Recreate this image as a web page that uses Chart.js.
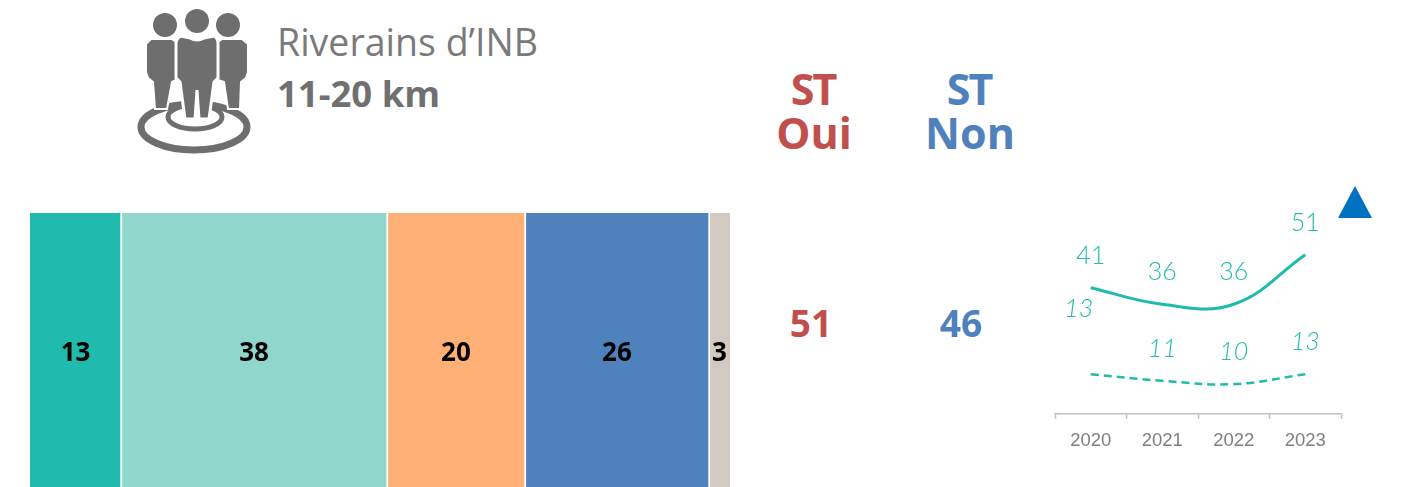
<!DOCTYPE html>
<html lang="fr">
<head>
<meta charset="utf-8">
<title>Riverains d'INB 11-20 km</title>
<script src="https://cdn.jsdelivr.net/npm/chart.js@4"></script>
<style>
    html, body { margin: 0; padding: 0; background: #fff; }
    body { position: relative; width: 1402px; height: 487px; overflow: hidden; font-family: "Open Sans", sans-serif; }
    .txt { position: absolute; white-space: nowrap; line-height: 1; }
    .ctr { transform: translateX(-50%); }
    #barBox { position: absolute; left: 30px; top: 213px; width: 700px; height: 274px; }
    #lineBox { position: absolute; left: 1053px; top: 190px; width: 290px; height: 273px; }
    #icon { position: absolute; left: 0; top: 0; }
    #arrow { position: absolute; left: 1338px; top: 186px; }
</style>
</head>
<body>
<svg id="icon" width="260" height="160">
    <g fill="none" stroke="#6e6e6e">
        <ellipse cx="194" cy="127" rx="53" ry="23" stroke-width="7"/>
        <ellipse cx="195" cy="117" rx="27" ry="12" stroke-width="5"/>
    </g>
    <g fill="#6e6e6e" stroke="#fff" stroke-width="3">
        <circle cx="165" cy="25" r="12" stroke="none"/>
        <circle cx="228" cy="25" r="12" stroke="none"/>
        <circle cx="197" cy="21" r="12" stroke="none"/>
        <path stroke-width="2" d="M151 39 L172 39 L176 42 L176 80 L172 82 L167 109 L155 109 L153 82 L148 78 L146 72 L146 44 Z"/>
        <path stroke-width="2" d="M242 39 L222 39 L218 42 L218 80 L224 82 L228 109 L240 109 L241 82 L246 78 L248 72 L248 44 Z"/>
        <path d="M181 36 L190 38 Q197 42 204 38 L214 36 Q218 38 218 44 L218 78 L214 82 L209 119 L199 119 L197 90 L195 119 L185 119 L180 82 L176 78 L176 44 Q176 38 181 36 Z"/>
    </g>
</svg>
<svg id="arrow" width="35" height="33"><polygon points="17,0 34,32 0,32" fill="#0070c0"/></svg>

<div class="txt" style="left:277px;top:23px;font-size:37.5px;color:#7a7a7a;">Riverains d’INB</div>
<div class="txt" style="left:277px;top:75px;font-size:36.5px;font-weight:700;color:#707070;">11-20 km</div>

<div class="txt ctr" style="left:813px;top:67px;font-size:43px;font-weight:700;letter-spacing:-2px;color:#c0504d;">ST</div>
<div class="txt ctr" style="left:814px;top:111px;font-size:43px;font-weight:700;color:#c0504d;">Oui</div>
<div class="txt ctr" style="left:969px;top:67px;font-size:43px;font-weight:700;letter-spacing:-2px;color:#4f81bd;">ST</div>
<div class="txt ctr" style="left:970px;top:111px;font-size:43px;font-weight:700;color:#4f81bd;">Non</div>
<div class="txt ctr" style="left:811px;top:304px;font-size:37px;font-weight:700;color:#c0504d;">51</div>
<div class="txt ctr" style="left:961px;top:304px;font-size:37px;font-weight:700;color:#4f81bd;">46</div>

<div id="barBox"><canvas id="barChart"></canvas></div>
<div id="lineBox"><canvas id="lineChart"></canvas></div>

<script>
const shareLabels = ["13", "38", "20", "26", "3"];
const shareValues = [13, 38, 19.7, 26.3, 3];
const shareColors = ["#20bbad", "#91d6cd", "#ffb077", "#4f81bd", "#d2c9c0"];

const years = ["2020", "2021", "2022", "2023"];
const stOui = [41, 36, 36, 51];
const stFort = [13, 11, 10, 13];

const teal = "#20bbad";

// labels in the middle of each stacked segment
const segmentLabels = {
    id: "segmentLabels",
    afterDatasetsDraw(chart) {
        const ctx = chart.ctx;
        ctx.save();
        ctx.font = "700 26px 'Open Sans'";
        ctx.fillStyle = "#000";
        ctx.textAlign = "center";
        ctx.textBaseline = "middle";
        chart.data.datasets.forEach((dataset, i) => {
            const bar = chart.getDatasetMeta(i).data[0];
            ctx.fillText(shareLabels[i], (bar.x + bar.base) / 2, bar.y + 4);
        });
        ctx.restore();
    }
};

new Chart(document.getElementById("barChart"), {
    type: "bar",
    data: {
        labels: ["11-20 km"],
        datasets: shareValues.map((value, i) => ({
            label: shareLabels[i],
            data: [value],
            backgroundColor: shareColors[i],
            borderColor: "#fff",
            borderWidth: { left: i > 0 ? 1.5 : 0, right: i < shareValues.length - 1 ? 1 : 0 },
            borderSkipped: false,
            barPercentage: 1,
            categoryPercentage: 1
        }))
    },
    options: {
        indexAxis: "y",
        responsive: true,
        maintainAspectRatio: false,
        animation: false,
        plugins: { legend: { display: false }, tooltip: { enabled: false } },
        scales: {
            x: { display: false, stacked: true, min: 0, max: 100 },
            y: { display: false, stacked: true }
        }
    },
    plugins: [segmentLabels]
});

// value labels above the line points, the first 13 was moved by hand in the original
const pointLabels = {
    id: "pointLabels",
    afterDatasetsDraw(chart) {
        const ctx = chart.ctx;
        ctx.save();
        ctx.fillStyle = teal;
        ctx.textAlign = "center";
        ctx.textBaseline = "middle";
        chart.data.datasets.forEach((dataset, i) => {
            ctx.font = (i === 1 ? "italic 300 " : "300 ") + "25px Lato";
            chart.getDatasetMeta(i).data.forEach((pt, j) => {
                let dx = 0;
                let dy = -32;
                if (i === 1 && j === 0) {
                    dx = -12;
                    dy = -65;
                }
                ctx.fillText(dataset.data[j], pt.x + dx, pt.y + dy);
            });
        });
        ctx.restore();
    }
};

new Chart(document.getElementById("lineChart"), {
    type: "line",
    data: {
        labels: years,
        datasets: [{
            label: "Oui",
            data: stOui,
            borderColor: teal,
            borderWidth: 3,
            pointRadius: 0,
            tension: 0.4,
            yAxisID: "y"
        }, {
            label: "Tout à fait",
            data: stFort,
            borderColor: teal,
            borderWidth: 2.5,
            borderDash: [8, 5],
            pointRadius: 0,
            tension: 0.4,
            yAxisID: "y2"
        }]
    },
    options: {
        responsive: true,
        maintainAspectRatio: false,
        animation: false,
        layout: { padding: { left: 2, right: 2, top: 14, bottom: 0 } },
        plugins: { legend: { display: false }, tooltip: { enabled: false } },
        scales: {
            x: {
                offset: true,
                border: { color: "#bfbfbf", width: 1.5 },
                grid: { offset: true, drawOnChartArea: false, color: "#bfbfbf", tickLength: 5, tickWidth: 1.5 },
                ticks: { color: "#7f7f7f", font: { family: "Liberation Sans", size: 18.5 }, padding: 11, maxRotation: 0 }
            },
            y: { display: false, min: 2.8, max: 66.4 },
            y2: { display: false, min: 1, max: 64.6 }
        }
    },
    plugins: [pointLabels]
});
</script>
</body>
</html>
